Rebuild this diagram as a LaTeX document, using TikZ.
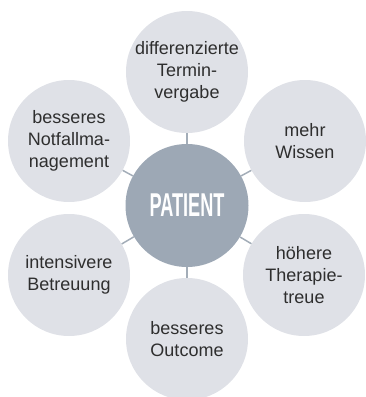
\documentclass[tikz,border=0pt]{standalone}
\usepackage{fontspec}
\setmainfont{Liberation Sans}
\usepackage{graphicx}
\definecolor{outerfill}{HTML}{DFE1E7}
\definecolor{centerfill}{HTML}{9DA8B5}
\definecolor{linkcol}{HTML}{A3ADB8}
\definecolor{txt}{HTML}{2E2E2E}
\begin{document}
\begin{tikzpicture}[x=1pt,y=-1pt,
  outer/.style={circle,fill=outerfill,minimum size=122pt,inner sep=0pt,align=center,text=txt,font=\fontsize{18}{22}\selectfont},
  core/.style={circle,fill=centerfill,minimum size=123pt,inner sep=0pt,text=white},
  link/.style={draw=linkcol,line width=1.5pt}]
\useasboundingbox (0,0) rectangle (366,397);
\node[core] (c) at (187,205.5) {\scalebox{0.55}[1]{\fontsize{33}{33}\selectfont\bfseries PATIENT}};
\node[outer] (t) at (187,72) {differenzierte\\Termin-\\vergabe};
\node[outer] (ur) at (305,141) {mehr\\Wissen};
\node[outer] (lr) at (304,275) {höhere\\Therapie-\\treue};
\node[outer] (b) at (187,339) {besseres\\Outcome};
\node[outer] (ll) at (69,275) {intensivere\\Betreuung};
\node[outer] (ul) at (69,141) {besseres\\Notfallma-\\nagement};
\foreach \n in {t,ur,lr,b,ll,ul} \draw[link] (c) -- (\n);
\end{tikzpicture}
\end{document}
